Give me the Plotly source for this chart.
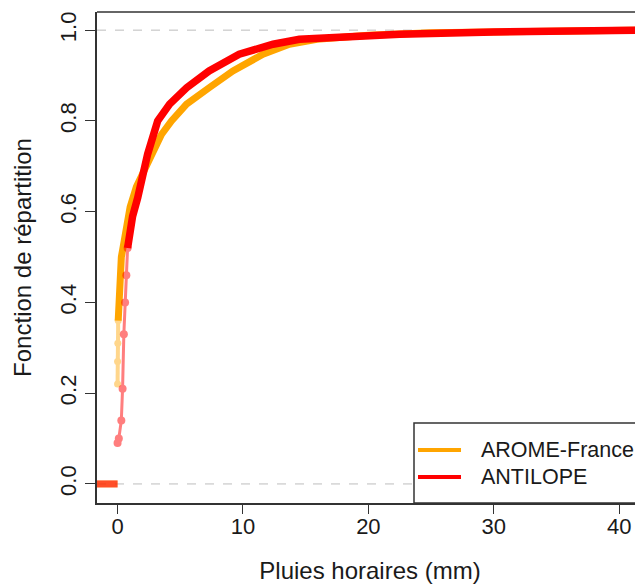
import plotly.graph_objects as go

# ---- data ----
arome_x = [0.0, 0.0, 0.02, 0.05, 0.1, 0.15, 0.2, 0.3, 0.4, 0.55, 0.7, 1.0, 1.5, 2.0, 2.8, 3.5,
           4.3, 5.5, 7.3, 9.2, 11.6, 13.7, 15.9, 20.0, 25.0, 30.0, 41.0]
arome_y = [0.22, 0.27, 0.31, 0.36, 0.42, 0.46, 0.48, 0.50, 0.515, 0.54, 0.57, 0.61, 0.655, 0.685,
           0.73, 0.77, 0.80, 0.837, 0.873, 0.91, 0.947, 0.969, 0.98, 0.989, 0.994, 0.997, 1.0]

antilope_x = [0.0, 0.1, 0.3, 0.4, 0.5, 0.6, 0.7, 0.8, 1.0, 1.2, 1.6, 2.0, 2.4, 3.2, 4.15, 5.5,
              7.3, 9.7, 12.4, 14.5, 18.0, 22.5, 30.0, 41.0]
antilope_y = [0.09, 0.10, 0.14, 0.21, 0.33, 0.40, 0.46, 0.52, 0.56, 0.59, 0.63, 0.68, 0.727,
              0.80, 0.837, 0.873, 0.91, 0.947, 0.969, 0.98, 0.986, 0.991, 0.996, 1.0]

series_names = ["AROME-France", "ANTILOPE"]
series_colors = ["#FFA500", "#FF0000"]

x_ticks = [0, 10, 20, 30, 40]
y_ticks = [0.0, 0.2, 0.4, 0.6, 0.8, 1.0]
y_tick_labels = ["0.0", "0.2", "0.4", "0.6", "0.8", "1.0"]

x_title = "Pluies horaires (mm)"
y_title = "Fonction de répartition"

# ---- layout geometry (page body has an 8px margin) ----
OFF = 8
W, H = 643 - OFF, 586 - OFF
ML, MR, MT, MB = 97 - OFF, 0, 12 - OFF, 83
x_range = [-1.64, 41.9]
y_range = [-0.042, 1.04]
FONT = "Liberation Sans, Arial, sans-serif"
TXT = "#1a1a1a"
AX = "#333333"

def px_x(p):
    # p = pixel position in the browser window
    return (p - OFF - ML) / (W - ML - MR)

def px_y(p):
    return (H - MB - (p - OFF)) / (H - MB - MT)

fig = go.Figure()

# left zero segments of the ECDFs (from -inf to first value)
for xs, col in [(arome_x, series_colors[0]), (antilope_x, series_colors[1])]:
    fig.add_trace(go.Scatter(x=[x_range[0], xs[0]], y=[0, 0], mode="lines",
                             line=dict(color=col, width=7), opacity=0.6,
                             showlegend=False, hoverinfo="skip"))

# AROME-France: lower dotted part + main curve
k = 3
fig.add_trace(go.Scatter(x=arome_x[:k + 1], y=arome_y[:k + 1], mode="markers+lines",
                         line=dict(color=series_colors[0], width=4),
                         marker=dict(color=series_colors[0], size=7),
                         opacity=0.45, showlegend=False, hoverinfo="skip"))
fig.add_trace(go.Scatter(x=arome_x[k:] + [x_range[1]], y=arome_y[k:] + [arome_y[-1]],
                         mode="lines", name=series_names[0],
                         line=dict(color=series_colors[0], width=7), showlegend=False))

# ANTILOPE: lower dotted part + main curve
k2 = 7
fig.add_trace(go.Scatter(x=antilope_x[:k2 + 1], y=antilope_y[:k2 + 1], mode="markers+lines",
                         line=dict(color=series_colors[1], width=3),
                         marker=dict(color=series_colors[1], size=8),
                         opacity=0.5, showlegend=False, hoverinfo="skip"))
fig.add_trace(go.Scatter(x=antilope_x[k2:] + [x_range[1]], y=antilope_y[k2:] + [antilope_y[-1]],
                         mode="lines", name=series_names[1],
                         line=dict(color=series_colors[1], width=7.5), showlegend=False))

shapes = []
# gray dashed reference lines at 0 and 1
for yv in (0, 1):
    shapes.append(dict(type="line", xref="paper", yref="y", x0=0, x1=1, y0=yv, y1=yv,
                       line=dict(color="#BDBDBD", width=1, dash="dash"), layer="below"))
# top border of the box
shapes.append(dict(type="line", xref="paper", yref="paper", x0=0, x1=1, y0=1, y1=1,
                   line=dict(color=AX, width=1.5)))
# legend box
shapes.append(dict(type="rect", xref="paper", yref="paper",
                   x0=px_x(414), x1=1.02, y0=0, y1=px_y(423),
                   line=dict(color=AX, width=1.5), fillcolor="white"))
annotations = []
for i, (nm, col) in enumerate(zip(series_names, series_colors)):
    yy = px_y(450 + 27 * i)
    shapes.append(dict(type="line", xref="paper", yref="paper",
                       x0=px_x(418), x1=px_x(461), y0=yy, y1=yy,
                       line=dict(color=col, width=4)))
    annotations.append(dict(xref="paper", yref="paper", x=px_x(479), y=yy,
                            xanchor="left", yanchor="middle", text=nm, showarrow=False,
                            font=dict(family=FONT, size=21.5, color=TXT)))

fig.update_layout(
    width=W, height=H,
    margin=dict(l=ML, r=MR, t=MT, b=MB),
    paper_bgcolor="white", plot_bgcolor="white",
    font=dict(family=FONT, size=22, color=TXT),
    shapes=shapes, annotations=annotations,
    showlegend=False,
)
fig.update_xaxes(range=x_range, tickvals=x_ticks, ticks="outside", ticklen=9,
                 tickcolor=AX, tickwidth=1.2, showline=True, linecolor=AX, linewidth=1.5,
                 showgrid=False, zeroline=False, automargin=False, ticklabelstandoff=-6,
                 tickfont=dict(family=FONT, size=22, color=TXT),
                 title=dict(text=x_title, standoff=24, font=dict(family=FONT, size=24, color=TXT)))
fig.update_yaxes(range=y_range, tickvals=y_ticks, ticktext=y_tick_labels, tickangle=-90,
                 ticks="outside", ticklen=10, tickcolor=AX, tickwidth=1.2,
                 showline=True, linecolor=AX, linewidth=1.5,
                 showgrid=False, zeroline=False, automargin=False,
                 tickfont=dict(family=FONT, size=22, color=TXT),
                 title=dict(text=y_title, standoff=18, font=dict(family=FONT, size=24, color=TXT)))

fig.write_html("out.html")
